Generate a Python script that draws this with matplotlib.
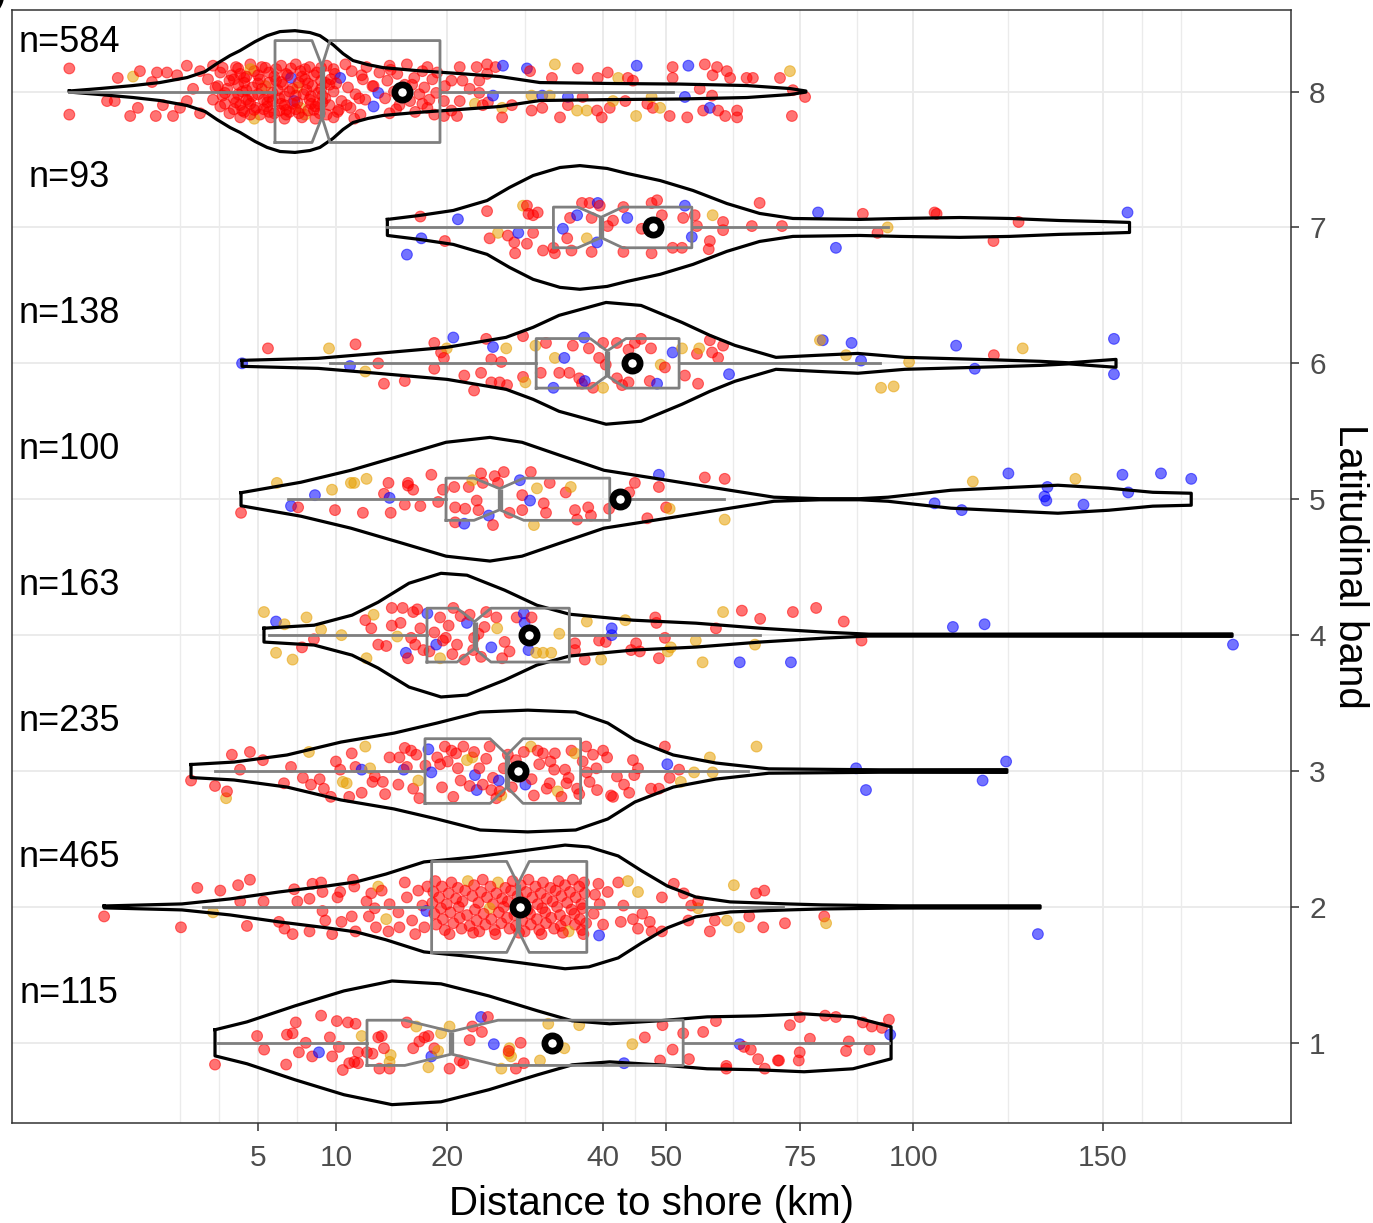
"""
distance_to_shore_violins
"""

import numpy as np
import matplotlib
matplotlib.use("Agg")
import matplotlib.pyplot as plt

plt.rcParams["font.family"] = ["Liberation Sans", "DejaVu Sans"]

# ── Data ──────────────────────────────────────────────────────────────────────
bands = [1, 2, 3, 4, 5, 6, 7, 8]
n_obs = [115, 465, 235, 163, 100, 138, 93, 584]

# box-plot statistics (km)
whis_lo = [3.1, 2.5, 2.98, 5.6, 6.71, 9.55, 14.2, 0.0]
q1 = [12.44, 18.43, 17.76, 17.96, 19.92, 30.6, 32.9, 5.94]
notch_lo = [15.8, 26.86, 24.85, 21.1, 23.0, 38.1, 36.3, 8.27]
median = [20.5, 28.25, 26.9, 23.05, 26.0, 40.6, 39.7, 8.96]
notch_hi = [25.8, 29.7, 28.9, 24.96, 29.0, 43.5, 43.0, 9.54]
q3 = [52.9, 37.6, 36.7, 35.1, 41.0, 52.2, 54.4, 19.29]
whis_hi = [94.3, 71.5, 64.6, 67.0, 60.2, 92.2, 94.0, 51.2]
means = [32.7, 28.5, 28.3, 29.7, 42.6, 44.5, 47.9, 15.54]

x_breaks = [5, 10, 20, 40, 50, 75, 100, 150]

# violin outlines: (km, half width in band units)
violin_1 = [(2.98, 0.096), (4.43, 0.154), (7.15, 0.272), (10.59, 0.382), (14.62, 0.455),
            (19.39, 0.434), (24.72, 0.345), (30.8, 0.235), (35.5, 0.162), (41.0, 0.14),
            (48.8, 0.162), (57.1, 0.191), (66.2, 0.198), (75.8, 0.213), (86.2, 0.191),
            (94.8, 0.118)]
violin_2 = [(0.17, 0.007), (1.78, 0.022), (3.63, 0.059), (6.17, 0.11), (9.32, 0.154),
            (11.54, 0.184), (14.08, 0.242), (17.66, 0.331), (22.9, 0.367), (28.6, 0.411),
            (34.5, 0.455), (37.9, 0.441), (42.3, 0.375), (46.0, 0.265), (50.2, 0.154),
            (55.1, 0.073), (61.3, 0.037), (72.5, 0.022), (79.5, 0.015), (96.9, 0.008),
            (132.3, 0.008)]
violin_3 = [(2.08, 0.048), (3.81, 0.066), (6.65, 0.118), (10.36, 0.213), (14.8, 0.279),
            (18.98, 0.353), (23.7, 0.434), (29.5, 0.448), (36.0, 0.434), (40.7, 0.353),
            (44.9, 0.228), (51.2, 0.118), (58.7, 0.059), (68.7, 0.016), (92.3, 0.009),
            (123.4, 0.01)]
violin_4 = [(5.32, 0.051), (8.41, 0.073), (11.22, 0.147), (13.38, 0.242), (16.2, 0.382),
            (19.4, 0.455), (22.2, 0.441), (26.6, 0.331), (30.7, 0.22), (35.1, 0.154),
            (44.6, 0.11), (55.1, 0.088), (67.0, 0.051), (80.0, 0.022), (89.8, 0.007),
            (109.1, 0.007), (143.1, 0.008), (189.8, 0.009)]
violin_5 = [(4.14, 0.048), (7.53, 0.125), (11.13, 0.213), (15.54, 0.323), (19.92, 0.419),
            (24.84, 0.455), (28.77, 0.419), (33.8, 0.323), (40.14, 0.213), (50.15, 0.14),
            (61.27, 0.066), (69.7, 0.015), (79.1, 0.004), (87.7, 0.004), (94.1, 0.015),
            (109.1, 0.066), (125.3, 0.088), (137.2, 0.103), (151.7, 0.081), (164.8, 0.051),
            (176.7, 0.044)]
violin_6 = [(4.19, 0.022), (8.69, 0.037), (13.29, 0.073), (20.03, 0.118), (26.77, 0.191),
            (30.2, 0.265), (33.67, 0.353), (40.44, 0.448), (45.89, 0.426), (52.7, 0.301),
            (57.6, 0.206), (62.2, 0.132), (70.1, 0.044), (78.5, 0.059), (87.3, 0.073),
            (98.0, 0.044), (119.8, 0.026), (132.3, 0.015), (140.3, 0.004), (147.7, 0.018),
            (153.8, 0.029)]
violin_7 = [(14.2, 0.059), (17.2, 0.088), (20.7, 0.125), (24.5, 0.198), (27.2, 0.294),
            (30.2, 0.382), (33.8, 0.441), (36.6, 0.455), (40.6, 0.434), (43.7, 0.397),
            (49.0, 0.345), (54.6, 0.272), (60.7, 0.176), (66.9, 0.103), (73.5, 0.066),
            (87.7, 0.059), (96.8, 0.066), (111.3, 0.073), (124.1, 0.066), (137.6, 0.051),
            (148.9, 0.044), (157.8, 0.037)]
violin_8 = [(0.0, 0.004), (0.13, 0.022), (0.57, 0.044), (1.15, 0.066), (1.95, 0.103),
            (2.59, 0.147), (3.06, 0.206), (3.63, 0.265), (4.09, 0.301), (4.84, 0.367),
            (5.49, 0.411), (6.23, 0.441), (7.15, 0.448), (8.13, 0.434), (8.82, 0.411),
            (9.76, 0.345), (10.52, 0.279), (11.30, 0.228), (12.52, 0.198), (13.82, 0.176),
            (16.97, 0.154), (21.43, 0.132), (26.04, 0.11), (31.10, 0.066), (41.50, 0.059),
            (52.36, 0.055), (64.48, 0.044), (72.91, 0.022), (76.17, 0.004)]

# jittered observations: (km, vertical jitter, colour code)
points_1 = [
    (2.98, -0.16, 'r'), (4.95, 0.05, 'r'), (5.33, -0.05, 'r'), (6.6, -0.16, 'r'), (6.65, 0.06, 'r'),
    (7.0, 0.07, 'r'), (7.2, 0.15, 'r'), (7.4, -0.07, 'r'), (7.85, 0.0, 'r'), (8.28, -0.1, 'r'),
    (8.75, -0.07, 'b'), (8.9, 0.2, 'r'), (9.53, 0.04, 'r'), (9.7, -0.1, 'r'), (10.05, 0.16, 'r'),
    (10.2, -0.03, 'r'), (10.5, -0.2, 'r'), (10.9, 0.15, 'r'), (11.0, -0.15, 'r'), (11.4, -0.14, 'r'),
    (11.5, 0.14, 'r'), (11.7, -0.15, 'r'), (11.7, -0.07, 'r'), (12.0, 0.05, 'o'), (12.44, -0.07, 'r'),
    (12.9, -0.08, 'r'), (13.4, 0.04, 'r'), (13.7, 0.05, 'r'), (13.5, -0.19, 'r'), (14.4, -0.19, 'r'),
    (14.5, -0.09, 'o'), (14.4, -0.14, 'o'), (13.9, -0.04, 'r'), (16.0, 0.15, 'r'), (16.9, 0.12, 'o'),
    (16.6, -0.04, 'r'), (17.2, 0.01, 'r'), (17.7, 0.04, 'r'), (18.1, 0.05, 'r'), (18.1, -0.18, 'o'),
    (18.4, -0.1, 'b'), (18.7, -0.04, 'r'), (19.1, -0.06, 'o'), (19.4, 0.07, 'o'), (20.3, 0.12, 'o'),
    (20.3, -0.19, 'r'), (21.4, -0.13, 'r'), (21.8, -0.15, 'r'), (22.5, 0.02, 'r'), (22.8, 0.12, 'r'),
    (23.8, 0.19, 'b'), (23.9, 0.08, 'r'), (24.6, 0.19, 'r'), (25.3, -0.01, 'b'), (26.2, -0.19, 'o'),
    (27.1, -0.08, 'o'), (27.2, -0.04, 'o'), (27.4, -0.1, 'o'), (27.1, -0.06, 'r'), (28.0, -0.19, 'r'),
    (28.6, 0.0, 'r'), (29.0, -0.15, 'r'), (31.1, -0.13, 'o'), (32.2, 0.14, 'o'), (34.4, -0.04, 'o'),
    (36.5, 0.13, 'o'), (43.2, -0.15, 'b'), (44.5, -0.01, 'o'), (46.5, 0.04, 'r'), (49.0, -0.13, 'r'),
    (49.4, 0.13, 'r'), (51.1, -0.05, 'r'), (52.9, 0.07, 'r'), (53.9, -0.12, 'r'), (56.4, 0.08, 'r'),
    (58.7, 0.16, 'r'), (60.6, -0.17, 'r'), (60.6, -0.19, 'r'), (63.1, -0.01, 'b'), (63.9, -0.03, 'r'),
    (65.2, -0.05, 'r'), (66.6, -0.12, 'r'), (67.9, -0.19, 'r'), (70.5, -0.13, 'r'), (70.7, -0.13, 'r'),
    (72.9, 0.13, 'r'), (74.7, -0.13, 'r'), (74.9, -0.07, 'r'), (74.9, 0.19, 'r'), (77.0, 0.03, 'r'),
    (80.2, 0.2, 'r'), (82.5, 0.19, 'r'), (84.7, -0.06, 'r'), (85.3, 0.01, 'r'), (88.4, 0.15, 'r'),
    (89.9, -0.05, 'r'), (90.4, 0.12, 'r'), (92.7, 0.11, 'r'), (94.3, 0.17, 'r'), (94.6, 0.06, 'b'),
]
points_2 = [
    (0.17, -0.07, 'r'), (1.75, -0.15, 'r'), (2.3, 0.14, 'r'), (2.9, -0.04, 'o'), (3.2, 0.12, 'r'),
    (4.0, 0.16, 'r'), (4.58, 0.2, 'r'), (4.43, -0.14, 'r'), (4.1, 0.04, 'r'), (5.3, 0.04, 'r'),
    (6.17, -0.11, 'r'), (6.5, -0.16, 'r'), (7.0, -0.2, 'r'), (7.3, 0.04, 'r'), (7.1, 0.13, 'r'),
    (8.1, -0.18, 'r'), (8.1, 0.06, 'r'), (8.3, 0.17, 'r'), (8.9, 0.18, 'r'), (9.0, 0.11, 'r'),
    (9.0, -0.03, 'r'), (9.2, -0.1, 'r'), (9.7, -0.2, 'r'), (10.1, 0.07, 'r'), (10.3, 0.11, 'r'),
    (10.4, -0.11, 'r'), (11.2, -0.07, 'r'), (11.3, 0.2, 'r'), (11.4, 0.15, 'r'), (11.5, -0.18, 'r'),
    (12.4, 0.04, 'r'), (12.6, -0.07, 'r'), (12.8, 0.1, 'r'), (13.1, -0.01, 'r'), (13.2, -0.15, 'r'),
    (13.4, 0.15, 'o'), (13.7, 0.12, 'r'), (14.1, -0.09, 'o'), (14.3, -0.18, 'r'), (14.4, 0.02, 'r'),
    (15.2, -0.04, 'r'), (15.3, -0.15, 'r'), (15.8, 0.18, 'r'), (16.0, 0.07, 'r'), (16.5, -0.1, 'r'),
    (16.8, -0.2, 'r'), (17.1, 0.12, 'r'), (17.5, 0.01, 'r'), (17.7, -0.15, 'r'), (17.9, -0.03, 'b'),
    (18.0, 0.15, 'r'),
    (18.8, 0.19, 'r'), (20.5, 0.18, 'r'), (22.3, 0.19, 'o'), (24.0, 0.2, 'r'), (25.8, 0.18, 'o'),
    (27.6, 0.19, 'r'), (29.6, 0.2, 'r'), (31.5, 0.18, 'r'), (33.6, 0.19, 'r'), (35.6, 0.2, 'r'),
    (37.2, 0.18, 'r'),
    (19.5, 0.15, 'r'), (21.2, 0.14, 'r'), (23.0, 0.16, 'r'), (24.9, 0.15, 'r'), (26.7, 0.14, 'r'),
    (28.6, 0.16, 'r'), (30.5, 0.15, 'r'), (32.5, 0.14, 'r'), (34.5, 0.16, 'r'), (36.5, 0.15, 'r'),
    (18.6, 0.11, 'r'), (20.2, 0.1, 'r'), (22.0, 0.12, 'r'), (23.8, 0.11, 'r'), (25.6, 0.1, 'r'),
    (27.4, 0.12, 'r'), (29.3, 0.11, 'r'), (31.2, 0.1, 'r'), (33.2, 0.12, 'r'), (35.2, 0.11, 'r'),
    (37.3, 0.1, 'r'),
    (19.2, 0.07, 'r'), (21.0, 0.06, 'r'), (22.8, 0.08, 'r'), (24.5, 0.07, 'r'), (26.3, 0.06, 'r'),
    (28.2, 0.08, 'r'), (30.1, 0.07, 'r'), (32.0, 0.06, 'r'), (34.0, 0.08, 'r'), (36.0, 0.07, 'r'),
    (18.5, 0.03, 'r'), (20.0, 0.02, 'r'), (21.7, 0.04, 'r'), (23.5, 0.03, 'r'), (25.2, 0.02, 'r'),
    (27.0, 0.04, 'r'), (28.9, 0.03, 'r'), (30.8, 0.02, 'r'), (32.8, 0.04, 'r'), (34.8, 0.03, 'r'),
    (36.8, 0.02, 'r'),
    (19.4, -0.01, 'r'), (21.3, 0.0, 'r'), (23.1, -0.02, 'r'), (24.8, -0.01, 'o'), (26.5, 0.0, 'r'),
    (29.5, -0.02, 'r'), (31.4, -0.01, 'r'), (33.4, 0.0, 'r'), (35.4, -0.02, 'r'), (37.0, -0.01, 'r'),
    (18.7, -0.05, 'r'), (20.4, -0.04, 'r'), (22.2, -0.06, 'r'), (24.1, -0.05, 'r'), (25.9, -0.04, 'r'),
    (27.8, -0.06, 'r'), (29.8, -0.05, 'r'), (31.8, -0.04, 'r'), (33.8, -0.06, 'r'), (35.8, -0.05, 'r'),
    (19.6, -0.09, 'r'), (21.4, -0.08, 'r'), (23.3, -0.1, 'r'), (25.0, -0.09, 'r'), (26.9, -0.08, 'r'),
    (28.8, -0.1, 'r'), (30.7, -0.09, 'r'), (32.6, -0.08, 'r'), (34.6, -0.1, 'r'), (36.6, -0.09, 'r'),
    (18.9, -0.13, 'r'), (20.7, -0.12, 'r'), (22.5, -0.14, 'r'), (24.3, -0.13, 'r'), (26.2, -0.12, 'r'),
    (28.0, -0.14, 'r'), (29.9, -0.13, 'r'), (31.9, -0.12, 'r'), (33.9, -0.14, 'r'), (35.9, -0.13, 'r'),
    (37.5, -0.12, 'r'),
    (19.8, -0.17, 'r'), (21.6, -0.16, 'r'), (23.6, -0.18, 'r'), (25.4, -0.17, 'r'), (27.2, -0.16, 'r'),
    (29.1, -0.18, 'r'), (31.0, -0.17, 'r'), (33.0, -0.16, 'r'), (35.0, -0.18, 'o'), (36.9, -0.17, 'r'),
    (20.3, -0.2, 'r'), (22.9, -0.19, 'r'), (25.5, -0.2, 'r'), (28.4, -0.19, 'r'), (31.3, -0.2, 'r'),
    (34.2, -0.19, 'r'), (37.1, -0.2, 'r'),
    (39.3, 0.17, 'r'), (39.5, 0.02, 'r'), (40.0, -0.13, 'r'), (38.6, -0.05, 'r'), (38.8, 0.09, 'r'),
    (39.4, -0.21, 'b'),
    (40.7, 0.11, 'r'), (42.3, 0.18, 'r'), (43.8, 0.19, 'o'), (45.4, 0.11, 'o'), (43.1, 0.01, 'r'),
    (42.7, -0.11, 'r'), (44.6, -0.09, 'r'), (46.1, -0.05, 'r'), (45.4, -0.16, 'r'), (47.3, -0.11, 'r'),
    (47.6, -0.18, 'r'), (49.3, 0.07, 'r'), (49.3, -0.18, 'r'), (51.3, 0.17, 'r'), (53.0, 0.1, 'r'),
    (54.3, 0.01, 'r'), (53.8, -0.1, 'r'), (55.5, -0.01, 'o'), (55.5, 0.04, 'r'), (57.6, -0.18, 'r'),
    (58.5, -0.1, 'r'), (60.7, -0.1, 'o'), (62.0, 0.16, 'o'), (63.0, -0.15, 'o'), (64.9, -0.07, 'r'),
    (66.2, 0.1, 'r'), (67.8, 0.12, 'r'), (67.6, -0.15, 'r'), (71.9, -0.12, 'r'), (80.0, -0.07, 'r'),
    (80.4, -0.12, 'o'), (131.7, -0.2, 'b'),
]
points_3 = [
    (2.08, -0.07, 'r'), (2.98, -0.11, 'r'), (3.45, -0.2, 'o'), (3.49, -0.15, 'r'), (3.71, 0.12, 'r'),
    (4.09, 0.01, 'r'), (4.58, 0.14, 'r'), (5.26, 0.08, 'r'), (6.47, -0.09, 'r'), (6.9, 0.03, 'r'),
    (7.66, -0.05, 'r'), (8.06, 0.14, 'o'), (8.2, -0.1, 'r'), (8.8, -0.06, 'r'), (9.1, -0.13, 'r'),
    (9.6, -0.19, 'r'), (9.98, 0.07, 'r'), (10.3, 0.01, 'r'), (10.5, -0.08, 'o'), (10.8, -0.09, 'o'),
    (11.0, -0.19, 'r'), (11.2, 0.13, 'r'), (11.5, 0.03, 'r'), (12.0, 0.01, 'b'), (12.3, 0.18, 'o'),
    (12.0, -0.16, 'r'), (12.7, 0.02, 'o'), (12.9, -0.08, 'r'), (13.1, -0.04, 'r'), (13.8, -0.08, 'r'),
    (14.4, 0.1, 'r'), (15.2, -0.1, 'r'), (15.3, 0.1, 'r'), (15.7, 0.01, 'b'), (15.8, 0.17, 'r'),
    (16.4, 0.15, 'r'), (16.6, -0.13, 'r'), (16.9, 0.12, 'r'), (17.1, -0.07, 'o'), (17.2, -0.2, 'r'),
    (17.8, 0.04, 'r'), (18.1, 0.16, 'b'), (18.4, -0.01, 'b'), (19.0, 0.1, 'r'), (19.5, -0.12, 'r'),
    (19.8, 0.18, 'r'), (20.1, 0.07, 'r'), (20.7, -0.19, 'r'), (21.0, 0.13, 'r'), (21.2, 0.02, 'r'),
    (21.5, -0.07, 'r'), (21.8, 0.18, 'r'), (22.2, 0.08, 'o'), (22.8, 0.1, 'o'), (23.1, -0.03, 'b'),
    (23.3, -0.14, 'b'), (23.6, 0.02, 'r'), (24.0, -0.1, 'r'), (24.4, 0.09, 'r'), (24.8, 0.18, 'r'),
    (25.0, -0.14, 'r'), (25.2, -0.05, 'r'), (25.6, -0.2, 'r'), (25.9, -0.07, 'b'), (26.2, -0.18, 'o'),
    (26.5, 0.02, 'r'), (27.5, -0.12, 'r'), (28.0, 0.08, 'r'), (29.2, -0.1, 'b'), (29.9, 0.18, 'o'),
    (30.3, -0.18, 'r'), (30.8, 0.15, 'r'), (31.5, 0.13, 'r'), (32.0, -0.13, 'r'), (32.4, -0.09, 'r'),
    (33.0, 0.01, 'r'), (33.1, 0.13, 'r'), (33.5, -0.15, 'o'), (34.0, -0.19, 'r'), (34.5, 0.01, 'r'),
    (34.7, -0.09, 'r'), (35.4, 0.15, 'r'), (35.9, 0.13, 'o'), (36.2, -0.13, 'r'), (37.5, 0.18, 'r'),
    (37.6, -0.01, 'r'), (38.0, -0.08, 'r'), (39.1, -0.14, 'r'), (40.0, 0.15, 'r'), (40.6, 0.1, 'r'),
    (41.2, -0.18, 'r'), (41.5, -0.19, 'r'), (42.1, -0.04, 'r'), (43.2, -0.1, 'r'), (44.0, -0.16, 'r'),
    (44.6, 0.08, 'r'), (44.8, -0.03, 'r'), (45.4, 0.02, 'r'), (47.5, -0.13, 'r'), (48.8, -0.13, 'r'),
    (49.8, 0.18, 'r'), (50.2, 0.05, 'b'), (50.6, -0.05, 'r'), (52.2, 0.01, 'r'), (52.5, -0.08, 'o'),
    (54.8, -0.01, 'o'), (57.6, 0.1, 'o'), (58.1, -0.01, 'o'), (66.3, 0.18, 'o'), (86.9, 0.02, 'b'),
    (89.1, -0.14, 'b'), (117.1, -0.07, 'b'), (123.2, 0.07, 'b'),
    (19.3, 0.05, 'r'), (22.5, -0.11, 'r'), (27.0, 0.12, 'r'), (28.6, -0.04, 'r'), (31.0, 0.05, 'r'),
    (35.0, -0.05, 'r'), (37.0, 0.07, 'r'), (39.0, 0.02, 'r'), (14.0, -0.17, 'r'), (16.0, 0.03, 'r'),
    (20.5, 0.15, 'r'), (23.0, 0.14, 'r'), (26.0, -0.15, 'r'), (29.0, 0.14, 'r'), (32.5, 0.07, 'r'),
    (36.5, -0.17, 'r'), (38.5, 0.12, 'r'), (30.0, -0.06, 'r'),
]
points_4 = [
    (5.32, 0.17, 'o'), (6.0, 0.1, 'b'), (6.0, -0.13, 'o'), (6.5, 0.08, 'o'), (7.0, -0.18, 'o'),
    (7.9, 0.13, 'o'), (8.4, -0.03, 'r'), (7.6, -0.09, 'r'), (8.9, 0.04, 'o'), (10.4, 0.0, 'o'),
    (12.3, 0.11, 'r'), (12.4, -0.17, 'o'), (12.8, 0.05, 'r'), (13.0, 0.15, 'o'), (13.4, -0.07, 'r'),
    (14.1, -0.08, 'r'), (14.6, 0.2, 'r'), (14.6, 0.07, 'r'), (15.1, -0.01, 'o'), (15.6, 0.2, 'r'),
    (15.9, -0.13, 'b'), (16.1, -0.17, 'r'), (16.6, 0.17, 'r'), (16.8, -0.07, 'r'), (17.3, 0.05, 'r'),
    (17.6, -0.11, 'r'), (18.0, 0.16, 'b'), (18.2, -0.12, 'r'), (18.7, 0.02, 'r'), (18.9, -0.07, 'b'),
    (19.3, 0.13, 'r'), (19.3, -0.17, 'o'), (19.9, -0.02, 'r'), (20.2, 0.07, 'r'), (20.7, 0.2, 'r'),
    (21.1, -0.07, 'r'), (21.9, -0.18, 'r'), (22.2, 0.09, 'b'), (22.5, 0.15, 'r'), (22.9, -0.11, 'r'),
    (23.5, 0.01, 'r'), (23.8, -0.16, 'r'), (24.4, 0.17, 'r'), (25.0, -0.09, 'b'), (25.6, 0.13, 'r'),
    (25.7, 0.05, 'o'), (26.3, -0.17, 'r'), (26.6, -0.05, 'r'), (27.2, -0.12, 'r'), (28.1, 0.13, 'r'),
    (29.0, 0.16, 'b'), (29.1, 0.09, 'b'), (29.6, -0.11, 'b'), (30.0, 0.13, 'r'), (30.6, -0.13, 'o'),
    (31.5, -0.13, 'o'), (32.6, -0.13, 'o'), (33.7, 0.01, 'o'), (35.9, -0.06, 'r'), (35.9, -0.11, 'r'),
    (37.3, -0.18, 'r'), (37.6, 0.1, 'o'), (39.4, -0.04, 'r'), (39.7, -0.18, 'o'), (40.4, -0.05, 'r'),
    (41.3, 0.05, 'b'), (41.3, 0.0, 'b'), (43.4, 0.11, 'o'), (44.3, -0.11, 'r'), (45.1, -0.06, 'r'),
    (45.7, -0.12, 'r'), (48.2, 0.13, 'r'), (48.4, 0.09, 'r'), (48.8, -0.17, 'r'), (49.8, -0.02, 'r'),
    (50.3, -0.12, 'o'), (50.8, -0.09, 'o'), (55.1, -0.04, 'o'), (56.3, -0.2, 'o'), (58.7, 0.05, 'r'),
    (60.0, 0.17, 'o'), (63.1, -0.2, 'b'), (63.5, 0.18, 'r'), (66.0, -0.07, 'o'), (67.0, 0.12, 'r'),
    (73.1, -0.2, 'b'), (73.5, 0.17, 'r'), (78.3, 0.2, 'r'), (84.2, 0.1, 'r'), (88.1, -0.04, 'r'),
    (109.6, 0.06, 'b'), (117.6, 0.08, 'b'), (190.1, -0.07, 'b'),
    (15.4, 0.09, 'r'), (17.0, 0.19, 'r'), (19.6, -0.04, 'r'), (21.5, 0.14, 'r'), (23.0, -0.02, 'r'),
    (24.2, 0.06, 'r'), (16.4, -0.02, 'r'), (20.6, -0.14, 'r'),
]
points_5 = [
    (4.14, -0.1, 'r'), (6.05, 0.12, 'o'), (6.9, -0.05, 'b'), (7.35, -0.06, 'r'), (8.47, 0.03, 'b'),
    (9.69, 0.07, 'o'), (9.91, -0.08, 'r'), (11.13, 0.12, 'o'), (11.4, 0.12, 'o'), (12.1, -0.1, 'r'),
    (12.4, 0.15, 'o'), (13.9, 0.04, 'r'), (14.3, 0.12, 'r'), (14.4, 0.01, 'b'), (14.5, -0.1, 'r'),
    (15.8, -0.04, 'r'), (16.1, 0.12, 'r'), (16.1, 0.1, 'r'), (16.6, 0.07, 'r'), (17.3, -0.05, 'r'),
    (18.4, 0.18, 'r'), (19.1, -0.02, 'r'), (19.6, 0.07, 'r'), (20.8, 0.09, 'r'), (20.9, -0.06, 'r'),
    (20.9, -0.17, 'r'), (21.9, -0.18, 'b'), (22.0, -0.07, 'r'), (22.4, 0.09, 'r'), (22.8, 0.14, 'o'),
    (23.3, -0.01, 'r'), (23.5, -0.08, 'r'), (23.8, 0.19, 'r'), (24.0, 0.12, 'r'), (24.7, -0.12, 'b'),
    (25.2, -0.19, 'r'), (25.4, 0.17, 'r'), (25.8, 0.12, 'r'), (26.5, 0.2, 'r'), (27.2, -0.1, 'r'),
    (28.5, 0.14, 'b'), (28.8, 0.03, 'r'), (28.8, -0.08, 'r'), (29.8, -0.01, 'b'), (29.9, 0.2, 'r'),
    (30.3, -0.19, 'o'), (30.7, 0.08, 'o'), (31.6, -0.03, 'r'), (31.9, -0.1, 'r'), (32.4, 0.12, 'r'),
    (34.6, 0.05, 'r'), (35.3, 0.09, 'o'), (35.9, -0.08, 'r'), (36.2, -0.15, 'r'), (37.8, -0.06, 'r'),
    (38.2, -0.12, 'r'), (40.9, -0.07, 'r'), (44.0, 0.05, 'r'), (44.9, 0.12, 'r'), (46.9, -0.14, 'r'),
    (48.8, 0.18, 'b'), (48.8, 0.09, 'r'), (50.0, -0.06, 'r'), (50.6, -0.07, 'o'), (56.7, 0.16, 'r'),
    (60.3, 0.15, 'r'), (60.3, -0.15, 'o'), (105.1, -0.03, 'b'), (111.8, -0.08, 'b'), (114.6, 0.13, 'o'),
    (123.8, 0.19, 'b'), (133.5, 0.02, 'b'), (134.3, 0.09, 'b'), (134.0, -0.01, 'b'), (142.1, 0.15, 'o'),
    (144.4, -0.04, 'b'), (155.7, 0.18, 'b'), (157.4, 0.05, 'b'), (167.3, 0.19, 'b'), (176.7, 0.15, 'b'),
]
points_6 = [
    (4.19, 0.0, 'b'), (5.54, 0.11, 'r'), (9.47, 0.11, 'o'), (11.06, -0.02, 'b'), (11.5, 0.14, 'r'),
    (12.3, -0.06, 'o'), (13.4, 0.0, 'r'), (13.9, -0.15, 'r'), (15.8, -0.13, 'r'), (18.7, 0.15, 'r'),
    (18.7, -0.04, 'r'), (19.4, 0.08, 'r'), (20.0, 0.11, 'o'), (19.7, 0.04, 'r'), (20.7, 0.19, 'b'),
    (21.9, -0.09, 'r'), (23.0, -0.2, 'r'), (23.8, -0.07, 'r'), (24.4, 0.18, 'r'), (25.0, 0.03, 'r'),
    (25.2, 0.12, 'b'), (26.2, 0.01, 'r'), (26.8, 0.11, 'o'), (25.0, -0.14, 'r'), (26.0, -0.14, 'r'),
    (26.9, -0.16, 'r'), (28.9, 0.2, 'r'), (28.9, -0.1, 'r'), (29.2, -0.14, 'o'), (30.5, 0.13, 'o'),
    (31.2, -0.07, 'r'), (31.9, 0.15, 'r'), (33.1, 0.04, 'o'), (32.9, -0.18, 'b'), (33.7, -0.07, 'r'),
    (34.4, 0.04, 'b'), (35.1, -0.07, 'r'), (35.6, 0.13, 'r'), (36.5, -0.11, 'r'), (36.9, -0.15, 'r'),
    (37.3, -0.13, 'b'), (37.2, 0.19, 'b'), (37.9, 0.11, 'r'), (38.5, -0.18, 'r'), (39.4, 0.04, 'r'),
    (40.0, 0.15, 'r'), (40.0, -0.18, 'o'), (40.4, -0.01, 'r'), (42.1, -0.11, 'r'), (42.1, 0.15, 'r'),
    (42.9, -0.16, 'r'), (43.9, -0.14, 'r'), (43.9, 0.1, 'r'), (44.9, 0.15, 'r'), (45.9, 0.18, 'r'),
    (47.5, 0.11, 'r'), (47.3, -0.13, 'r'), (48.5, -0.15, 'b'), (49.1, -0.01, 'o'), (49.8, -0.03, 'r'),
    (51.1, 0.08, 'b'), (52.7, 0.11, 'o'), (53.2, -0.09, 'r'), (55.3, 0.07, 'r'), (55.5, -0.15, 'r'),
    (55.7, 0.11, 'o'), (57.6, 0.17, 'r'), (58.0, 0.08, 'r'), (59.1, 0.04, 'r'), (60.0, 0.13, 'r'),
    (61.1, -0.08, 'b'), (79.7, 0.17, 'b'), (79.1, 0.17, 'o'), (85.9, 0.15, 'b'), (84.7, 0.06, 'o'),
    (88.0, 0.02, 'b'), (92.5, -0.18, 'o'), (95.4, -0.17, 'o'), (99.0, 0.01, 'o'), (110.4, 0.13, 'b'),
    (115.1, -0.04, 'b'), (120.0, 0.06, 'r'), (127.6, 0.11, 'o'), (153.2, 0.18, 'b'), (153.2, -0.08, 'b'),
]
points_7 = [
    (17.3, 0.08, 'r'), (17.4, -0.08, 'b'), (16.0, -0.2, 'b'), (21.2, 0.06, 'b'), (19.8, -0.1, 'r'),
    (24.5, 0.12, 'r'), (24.8, -0.08, 'r'), (25.8, -0.04, 'o'), (27.0, -0.06, 'r'), (27.8, -0.11, 'r'),
    (27.9, -0.19, 'r'), (28.3, -0.04, 'b'), (28.9, 0.16, 'o'), (29.4, 0.16, 'r'), (29.6, 0.1, 'r'),
    (30.2, 0.09, 'r'), (30.8, 0.11, 'r'), (29.4, -0.12, 'r'), (30.2, -0.04, 'r'), (31.5, -0.17, 'r'),
    (32.9, -0.15, 'r'), (33.1, -0.19, 'r'), (34.2, -0.01, 'b'), (34.8, -0.08, 'r'), (35.2, 0.07, 'r'),
    (35.4, -0.17, 'r'), (36.2, 0.09, 'b'), (36.9, 0.18, 'r'), (38.0, 0.18, 'r'), (38.3, 0.07, 'r'),
    (38.3, -0.18, 'r'), (37.6, -0.08, 'o'), (39.1, -0.11, 'b'), (39.2, 0.18, 'b'), (39.5, 0.16, 'r'),
    (40.7, 0.01, 'r'), (41.5, 0.05, 'r'), (43.1, 0.15, 'r'), (43.7, 0.07, 'b'), (43.1, -0.18, 'r'),
    (46.0, -0.01, 'r'), (47.6, 0.18, 'r'), (48.5, 0.2, 'r'), (47.6, -0.19, 'r'), (49.3, 0.09, 'r'),
    (51.1, -0.15, 'r'), (52.7, -0.15, 'r'), (52.9, 0.07, 'r'), (53.2, 0.16, 'b'), (54.4, -0.07, 'b'),
    (54.9, 0.09, 'r'), (55.3, 0.01, 'r'), (57.6, -0.1, 'r'), (57.4, -0.16, 'r'), (58.1, 0.09, 'o'),
    (60.0, 0.04, 'r'), (60.0, -0.02, 'r'), (65.4, 0.01, 'r'), (66.9, 0.18, 'r'), (71.3, 0.01, 'r'),
    (78.7, 0.11, 'b'), (82.5, -0.15, 'b'), (88.4, 0.1, 'r'), (91.7, -0.04, 'r'), (94.0, 0.0, 'o'),
    (105.1, 0.11, 'r'), (105.6, 0.1, 'r'), (119.9, -0.1, 'r'), (126.5, 0.04, 'r'), (157.2, 0.11, 'b'),
]
points_8 = [
    (0.0, 0.17, 'r'), (0.0, -0.17, 'r'), (0.20, -0.07, 'r'), (0.29, -0.07, 'r'), (0.33, 0.10, 'r'),
    (0.52, -0.18, 'r'), (0.57, 0.11, 'o'), (0.66, -0.12, 'r'), (0.70, 0.15, 'r'), (0.96, 0.07, 'r'),
    (1.05, -0.18, 'r'), (1.08, 0.14, 'r'), (1.23, -0.10, 'r'), (1.34, 0.14, 'r'), (1.51, -0.18, 'r'),
    (1.63, 0.12, 'r'), (1.72, -0.12, 'r'), (1.94, 0.19, 'r'), (1.94, -0.07, 'r'), (2.15, 0.02, 'r'),
    (2.40, 0.15, 'r'), (2.40, -0.16, 'r'),
    (2.9, 0.19, 'r'), (3.9, 0.18, 'r'), (4.6, 0.2, 'r'), (5.2, 0.18, 'r'), (6.3, 0.19, 'r'),
    (7.2, 0.2, 'r'), (8.1, 0.18, 'r'), (9.3, 0.19, 'r'), (10.7, 0.2, 'r'), (12.4, 0.18, 'r'),
    (14.4, 0.19, 'r'), (16.0, 0.2, 'r'), (18.0, 0.18, 'r'),
    (3.2, 0.14, 'r'), (4.1, 0.13, 'r'), (4.8, 0.15, 'r'), (5.6, 0.14, 'r'), (6.6, 0.13, 'r'),
    (7.5, 0.15, 'r'), (8.6, 0.14, 'r'), (9.9, 0.13, 'r'), (11.2, 0.15, 'r'), (13.5, 0.14, 'r'),
    (15.1, 0.13, 'r'), (17.5, 0.15, 'r'), (19.0, 0.14, 'r'),
    (2.7, 0.09, 'r'), (3.6, 0.08, 'r'), (4.3, 0.1, 'r'), (5.1, 0.09, 'r'), (6.0, 0.08, 'r'),
    (6.9, 0.1, 'b'), (7.8, 0.09, 'r'), (8.9, 0.08, 'r'), (10.3, 0.1, 'b'), (12.1, 0.09, 'r'),
    (14.2, 0.08, 'r'), (16.7, 0.1, 'r'), (18.5, 0.09, 'r'),
    (3.1, 0.04, 'r'), (4.0, 0.05, 'r'), (4.7, 0.03, 'r'), (5.4, 0.04, 'o'), (6.4, 0.05, 'r'),
    (7.3, 0.03, 'o'), (8.3, 0.04, 'r'), (9.5, 0.05, 'r'), (10.9, 0.03, 'r'), (12.9, 0.04, 'r'),
    (15.8, 0.05, 'r'), (17.7, 0.03, 'r'),
    (3.4, -0.01, 'r'), (4.2, 0.0, 'r'), (5.0, -0.02, 'r'), (5.8, -0.01, 'r'), (6.8, 0.0, 'r'),
    (7.7, -0.02, 'r'), (8.7, -0.01, 'r'), (9.8, 0.0, 'r'), (11.5, -0.02, 'r'), (13.4, -0.01, 'b'),
    (14.8, 0.0, 'r'), (17.2, -0.02, 'r'), (18.9, -0.01, 'r'),
    (2.9, -0.06, 'r'), (3.8, -0.05, 'r'), (4.5, -0.07, 'r'), (5.3, -0.06, 'r'), (6.2, -0.05, 'r'),
    (7.1, -0.07, 'b'), (8.1, -0.06, 'r'), (9.2, -0.05, 'r'), (10.4, -0.07, 'r'), (12.3, -0.06, 'r'),
    (14.0, -0.05, 'r'), (16.3, -0.07, 'r'), (18.2, -0.06, 'r'),
    (3.2, -0.11, 'r'), (4.1, -0.1, 'r'), (4.9, -0.12, 'r'), (5.5, -0.11, 'r'), (6.5, -0.1, 'r'),
    (7.5, -0.12, 'o'), (8.5, -0.11, 'r'), (9.5, -0.1, 'r'), (11.1, -0.12, 'r'), (13.0, -0.11, 'b'),
    (15.3, -0.1, 'r'), (18.0, -0.12, 'r'),
    (3.6, -0.16, 'r'), (4.3, -0.15, 'r'), (5.1, -0.17, 'r'), (5.9, -0.16, 'r'), (6.8, -0.15, 'r'),
    (7.8, -0.17, 'o'), (8.8, -0.16, 'r'), (10.1, -0.15, 'r'), (11.9, -0.17, 'r'), (14.4, -0.16, 'r'),
    (16.8, -0.15, 'r'), (18.7, -0.17, 'r'),
    (4.1, -0.19, 'r'), (4.8, -0.2, 'o'), (5.7, -0.19, 'r'), (6.5, -0.2, 'r'), (7.6, -0.19, 'r'),
    (8.5, -0.2, 'r'), (9.8, -0.19, 'r'), (11.4, -0.2, 'r'),
    (4.6, 0.165, 'o'), (6.0, 0.165, 'r'), (7.8, 0.165, 'r'), (9.8, 0.165, 'r'), (4.3, 0.065, 'r'),
    (5.6, 0.065, 'r'), (7.4, 0.065, 'r'), (9.2, 0.065, 'r'), (4.7, -0.035, 'r'), (6.5, -0.035, 'r'),
    (8.2, -0.035, 'r'), (4.8, -0.135, 'r'), (6.6, -0.135, 'r'), (8.4, -0.135, 'r'), (10.2, -0.135, 'r'),
    (3.7, 0.12, 'r'), (4.4, 0.11, 'r'), (5.0, 0.12, 'r'), (5.9, 0.11, 'r'), (6.7, 0.12, 'r'),
    (7.6, 0.11, 'r'), (8.4, 0.12, 'r'), (3.5, 0.02, 'r'), (4.4, 0.01, 'r'), (5.2, 0.02, 'r'),
    (6.1, 0.01, 'r'), (7.0, 0.02, 'r'), (7.9, 0.01, 'r'), (8.9, 0.02, 'r'), (3.9, -0.08, 'r'),
    (4.6, -0.09, 'r'), (5.5, -0.08, 'r'), (6.3, -0.09, 'r'), (7.3, -0.08, 'r'), (8.2, -0.09, 'r'),
    (9.0, -0.08, 'r'), (4.2, -0.14, 'r'), (5.3, -0.13, 'r'), (6.2, -0.14, 'r'), (7.2, -0.13, 'r'),
    (8.0, -0.14, 'r'),
    (3.3, 0.175, 'r'), (4.0, 0.17, 'r'), (5.4, 0.175, 'r'), (6.9, 0.17, 'r'), (8.9, 0.175, 'r'),
    (3.0, 0.03, 'r'), (3.8, 0.09, 'r'), (5.0, 0.06, 'r'), (6.3, 0.07, 'r'), (8.0, 0.06, 'r'),
    (9.6, 0.09, 'r'), (3.3, -0.03, 'r'), (4.0, -0.02, 'r'), (5.6, -0.04, 'r'), (7.2, -0.03, 'r'),
    (9.0, -0.03, 'r'), (3.4, -0.09, 'r'), (4.4, -0.06, 'r'), (5.8, -0.07, 'r'), (7.0, -0.09, 'r'),
    (8.7, -0.09, 'r'), (3.8, -0.13, 'r'), (4.6, -0.17, 'r'), (5.6, -0.15, 'r'), (6.6, -0.17, 'r'),
    (7.4, -0.16, 'r'), (9.3, -0.17, 'r'), (10.8, -0.1, 'r'), (12.0, 0.12, 'r'), (13.0, 0.04, 'r'),
    (15.0, -0.13, 'r'), (16.5, 0.05, 'r'), (17.5, -0.09, 'r'), (11.8, -0.05, 'r'), (14.5, 0.16, 'r'),
    (10.0, 0.06, 'r'),
    (19.7, -0.07, 'r'), (19.7, -0.18, 'r'), (20.5, -0.14, 'r'), (21.1, -0.18, 'r'), (19.8, 0.04, 'r'),
    (20.5, 0.08, 'r'), (21.7, 0.08, 'r'), (22.5, 0.02, 'r'), (23.6, 0.08, 'r'), (24.5, 0.13, 'r'),
    (23.6, -0.01, 'r'), (24.6, -0.08, 'r'), (21.4, 0.18, 'r'), (23.3, 0.18, 'r'), (24.5, 0.2, 'r'),
    (25.5, 0.18, 'r'), (26.4, 0.19, 'b'), (29.4, 0.17, 'b'), (29.8, 0.15, 'r'), (33.1, 0.2, 'o'),
    (32.7, 0.1, 'r'), (36.3, 0.17, 'r'), (39.2, 0.1, 'r'), (40.7, 0.14, 'r'), (42.3, 0.1, 'o'),
    (43.8, 0.1, 'r'), (45.2, 0.19, 'b'), (44.6, 0.08, 'r'), (51.1, 0.18, 'r'), (53.8, 0.19, 'b'),
    (51.1, 0.1, 'r'), (56.7, 0.2, 'r'), (58.1, 0.12, 'r'), (58.9, 0.18, 'r'), (60.7, 0.15, 'r'),
    (61.3, 0.1, 'r'), (64.4, 0.1, 'r'), (65.6, 0.1, 'r'), (70.9, 0.1, 'r'), (72.9, 0.15, 'o'),
    (21.4, -0.07, 'r'), (23.1, -0.09, 'o'), (24.0, -0.1, 'r'), (25.2, -0.03, 'b'), (26.3, -0.12, 'o'),
    (26.3, -0.19, 'r'), (27.5, -0.1, 'r'), (30.0, -0.14, 'r'), (30.0, -0.03, 'o'), (31.4, -0.03, 'b'),
    (31.4, -0.12, 'r'), (32.4, -0.03, 'o'), (33.8, -0.19, 'r'), (34.9, -0.04, 'b'), (34.9, -0.1, 'r'),
    (36.2, -0.14, 'o'), (37.6, -0.14, 'o'), (37.0, -0.04, 'r'), (39.1, -0.14, 'r'), (39.8, -0.19, 'r'),
    (41.0, -0.12, 'r'), (41.5, -0.07, 'o'), (43.4, -0.07, 'r'), (45.1, -0.18, 'o'), (46.9, -0.09, 'r'),
    (47.6, -0.04, 'o'), (47.8, -0.12, 'r'), (49.0, -0.12, 'o'), (50.6, -0.18, 'r'), (53.2, -0.04, 'b'),
    (53.6, -0.19, 'r'), (55.8, 0.02, 'r'), (56.4, -0.14, 'r'), (57.6, -0.12, 'b'), (58.0, -0.03, 'r'),
    (59.1, -0.14, 'r'), (60.4, -0.18, 'r'), (62.6, -0.14, 'r'), (62.6, -0.19, 'r'), (73.3, -0.18, 'r'),
    (76.0, -0.04, 'r'), (73.5, 0.01, 'r'),
]

violins = [violin_1, violin_2, violin_3, violin_4, violin_5, violin_6, violin_7, violin_8]
point_sets = [points_1, points_2, points_3, points_4, points_5, points_6, points_7, points_8]
point_colors = {"r": "#FF0000", "o": "#E69F00", "b": "#0000FF"}


# ── Scale helpers ─────────────────────────────────────────────────────────────
def fwd(x):
    x = np.asarray(x, dtype=float)
    return np.sign(x) * np.sqrt(np.abs(x))


def inv(y):
    y = np.asarray(y, dtype=float)
    return np.sign(y) * y ** 2


# ── Figure ────────────────────────────────────────────────────────────────────
W, H = 1373, 1223
fig = plt.figure(figsize=(W / 100, H / 100), dpi=100)
fig.patch.set_facecolor("white")
ax = fig.add_axes([12 / W, 1 - 1123 / H, (1291 - 12) / W, (1123 - 10) / H])
ax.set_xscale("function", functions=(fwd, inv))
ax.set_xlim(float(inv(-0.679)), float(inv(14.475)))
ax.set_ylim(0.41, 8.6)

# gridlines (ggplot-style minor breaks in the sqrt space)
ax.set_xticks(x_breaks)
ax.set_xticklabels([str(v) for v in x_breaks])
sb = fwd(x_breaks)
bd = sb[1] - sb[0]
lo, hi = fwd(ax.get_xlim())
ext = list(sb)
if lo < sb[0]:
    ext = [sb[0] - bd] + ext
if hi > sb[-1]:
    ext = ext + [sb[-1] + bd]
ext = np.array(ext)
minor = np.concatenate([ext, (ext[:-1] + ext[1:]) / 2])
minor = minor[(minor > lo) & (minor < hi)]
ax.set_xticks(inv(np.sort(minor)), minor=True)
ax.set_yticks(bands)

ax.set_axisbelow(True)
ax.grid(which="major", color="#EBEBEB", lw=1.4)
ax.grid(which="minor", axis="x", color="#EBEBEB", lw=1.0)

# jittered points
for b, pts in zip(bands, point_sets):
    xs = [p[0] for p in pts]
    ys = [b + p[1] for p in pts]
    cs = [point_colors[p[2]] for p in pts]
    ax.scatter(xs, ys, s=60, c=cs, alpha=0.55, linewidths=0.8, zorder=2)

# violins
for b, outline in zip(bands, violins):
    vx = np.array([p[0] for p in outline])
    hw = np.array([p[1] for p in outline])
    px = np.concatenate([vx, vx[::-1], vx[:1]])
    py = np.concatenate([b + hw, b - hw[::-1], [b + hw[0]]])
    ax.plot(px, py, color="black", lw=2.3, zorder=3, solid_joinstyle="round")

# notched boxes, width ~ sqrt(n)
stats = []
for i in range(len(bands)):
    stats.append(dict(med=median[i], q1=q1[i], q3=q3[i], whislo=whis_lo[i],
                      whishi=whis_hi[i], cilo=notch_lo[i], cihi=notch_hi[i], fliers=[]))
widths = [0.75 * np.sqrt(n / max(n_obs)) for n in n_obs]
box_col = "#7F7F7F"
ax.bxp(stats, positions=bands, widths=widths, orientation="horizontal",
       shownotches=True, showcaps=False, showfliers=False, manage_ticks=False,
       boxprops=dict(color=box_col, lw=2.0),
       whiskerprops=dict(color=box_col, lw=2.0),
       medianprops=dict(color=box_col, lw=3.8, solid_capstyle="butt"),
       zorder=4)

# means
ax.plot(means, bands, ls="none", marker="o", ms=11, mfc="white", mec="black",
        mew=4.8, zorder=5)

# sample sizes
for b, n in zip(bands, n_obs):
    ax.text(0, b + 0.294, f"n={n}", ha="center", va="baseline", fontsize=26,
            color="black", zorder=6)

# axes styling
for s in ax.spines.values():
    s.set_color("#333333")
    s.set_linewidth(1.1)
ax.yaxis.tick_right()
ax.tick_params(which="major", length=6, width=1.1, color="#333333",
               labelcolor="#4D4D4D", labelsize=21.5)
ax.tick_params(which="minor", length=0)
ax.tick_params(axis="x", pad=9)
ax.tick_params(axis="y", pad=7)

fig.text(651.5 / W, 1 - 1215 / H, "Distance to shore (km)", ha="center",
         va="baseline", fontsize=29, color="black")
fig.text(1350 / W, 1 - 566 / H, "Latitudinal band", rotation=270, ha="center",
         va="center", fontsize=29, color="black")
fig.text(7 / W, 1 - 3.6 / H, "b)", ha="right", va="baseline", fontsize=29,
         color="black")

fig.savefig("out.png", dpi=100, facecolor=fig.get_facecolor())
